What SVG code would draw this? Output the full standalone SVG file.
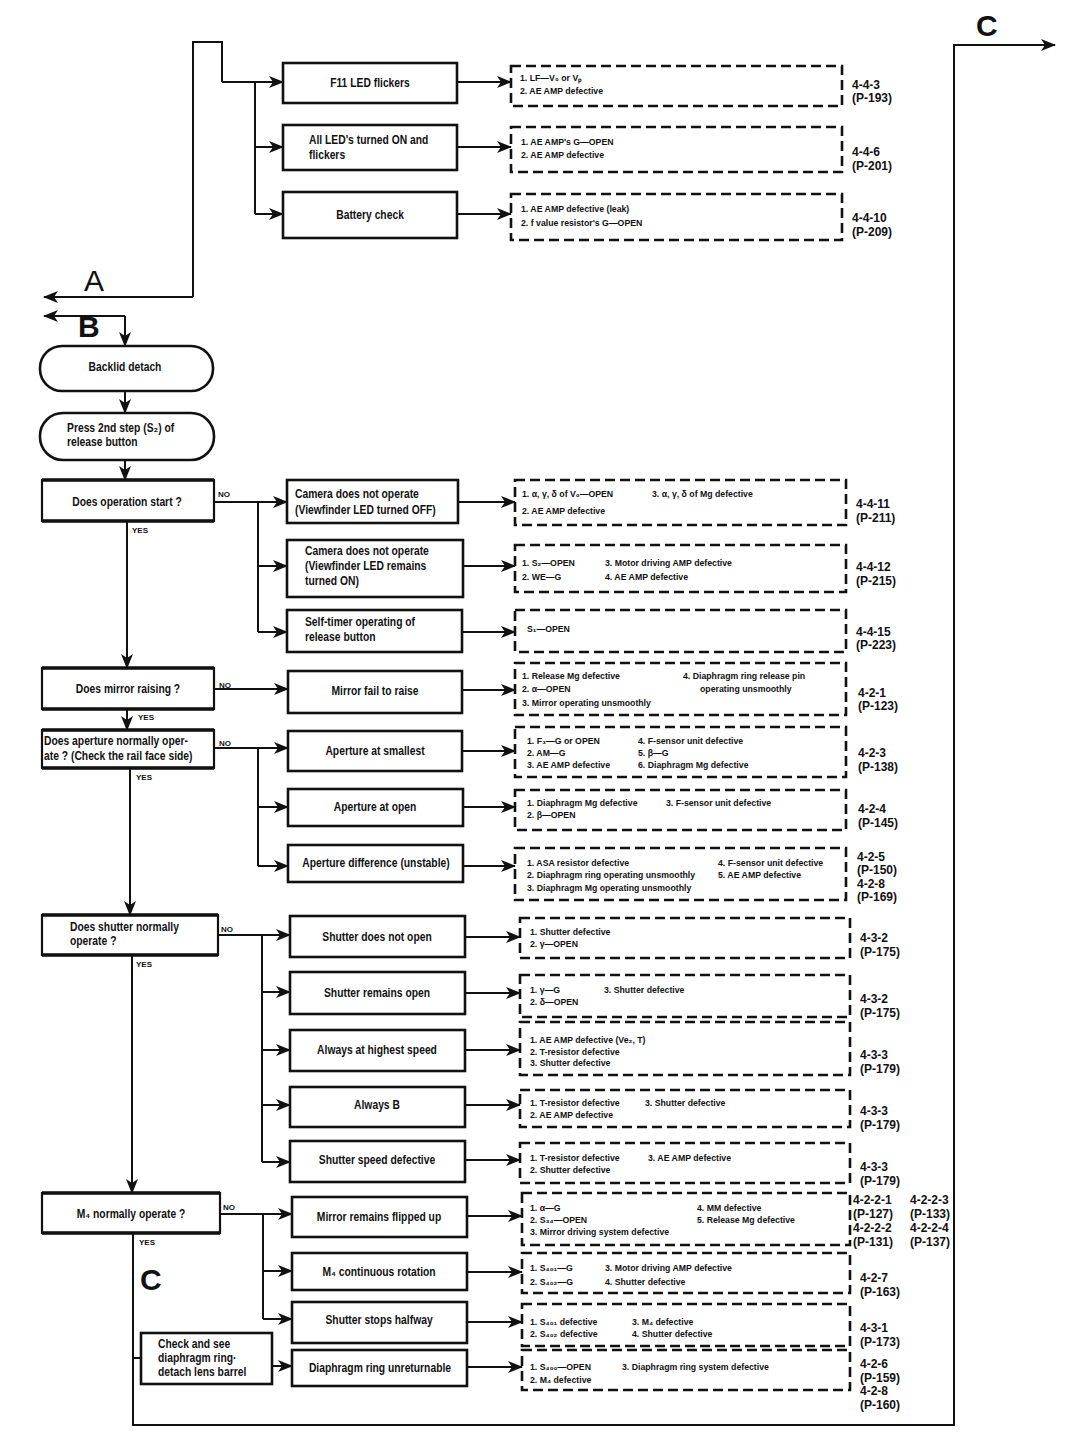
<svg xmlns="http://www.w3.org/2000/svg" width="1074" height="1456" viewBox="0 0 1074 1456">
<defs>
<marker id="ah" markerUnits="userSpaceOnUse" markerWidth="16" markerHeight="12" refX="14" refY="6" orient="auto">
<path d="M0,0 L15,6 L0,12 L4,6 Z" fill="#111"/>
</marker>
<style>
.bx{fill:#fff;stroke:#111;stroke-width:2.6}
.q{fill:#fff;stroke:#111;stroke-width:2.2}
.qt{fill:none;stroke:#111;stroke-width:3.6}
.db{fill:none;stroke:#111;stroke-width:2.6;stroke-dasharray:10 5}
.ln{fill:none;stroke:#111;stroke-width:2}
.ar{fill:none;stroke:#111;stroke-width:2;marker-end:url(#ah)}
text{font-family:"Liberation Sans",Arial,sans-serif;font-weight:bold;fill:#111}
.t{font-size:12px;text-anchor:middle;transform-box:fill-box;transform-origin:50% 50%;transform:scaleX(.86)}
.tl{font-size:12px;transform-box:fill-box;transform-origin:0 50%;transform:scaleX(.86)}
.s{font-size:9.5px;transform-box:fill-box;transform-origin:0 50%;transform:scaleX(.92)}
.r{font-size:12px}
.y{font-size:8px}
.big{font-size:30px}
.thin{font-weight:normal}
</style>
</defs>
<rect width="1074" height="1456" fill="#fff"/>

<g id="connectors">
<path class="ar" d="M193,297 H44"/>
<path class="ln" d="M193,297 V42 H222 V82"/>
<path class="ar" d="M222,82 H283"/>
<path class="ln" d="M255,82 V214"/>
<path class="ar" d="M255,147 H283"/>
<path class="ar" d="M255,214 H283"/>
<path class="ar" d="M457,82 H511"/>
<path class="ar" d="M457,147 H511"/>
<path class="ar" d="M457,214 H511"/>
<path class="ar" d="M125,316 H44"/>
<path class="ar" d="M125,316 V346"/>
<path class="ar" d="M125,391 V413"/>
<path class="ar" d="M125,460 V480"/>
<path class="ar" d="M214,502 H287"/>
<path class="ln" d="M258,502 V632"/>
<path class="ar" d="M258,566 H287"/>
<path class="ar" d="M258,632 H287"/>
<path class="ar" d="M458,502 H515"/>
<path class="ar" d="M463,566 H515"/>
<path class="ar" d="M462,632 H515"/>
<path class="ar" d="M127,521 V668"/>
<path class="ar" d="M214,689 H288"/>
<path class="ar" d="M462,690 H515"/>
<path class="ar" d="M127,709 V730"/>
<path class="ar" d="M214,748 H288"/>
<path class="ln" d="M258,748 V866"/>
<path class="ar" d="M258,807 H288"/>
<path class="ar" d="M258,866 H288"/>
<path class="ar" d="M462,751 H515"/>
<path class="ar" d="M463,807 H515"/>
<path class="ar" d="M463,866 H515"/>
<path class="ar" d="M130,768 V915"/>
<path class="ar" d="M218,935 H290"/>
<path class="ln" d="M262,935 V1162"/>
<path class="ar" d="M262,992 H290"/>
<path class="ar" d="M262,1050 H290"/>
<path class="ar" d="M262,1105 H290"/>
<path class="ar" d="M262,1162 H290"/>
<path class="ar" d="M465,937 H520"/>
<path class="ar" d="M465,993 H520"/>
<path class="ar" d="M465,1050 H520"/>
<path class="ar" d="M465,1105 H520"/>
<path class="ar" d="M465,1160 H520"/>
<path class="ar" d="M132,955 V1193"/>
<path class="ar" d="M220,1214 H292"/>
<path class="ln" d="M263,1214 V1319"/>
<path class="ar" d="M263,1271 H292"/>
<path class="ar" d="M263,1319 H292"/>
<path class="ar" d="M467,1216 H522"/>
<path class="ar" d="M467,1272 H522"/>
<path class="ar" d="M467,1322 H522"/>
<path class="ar" d="M467,1367 H522"/>
<path class="ln" d="M133,1358 H141"/>
<path class="ar" d="M272,1366 H292"/>
<path class="ar" d="M133,1233 V1425 H954 V45 H1055"/>
</g>

<g id="labels">
<text class="big thin" x="84" y="291">A</text>
<text class="big" x="78" y="337">B</text>
<text class="big" x="976" y="36">C</text>
<text class="big" x="140" y="1290">C</text>
<text class="y" x="218" y="497">NO</text>
<text class="y" x="132" y="533">YES</text>
<text class="y" x="219" y="688">NO</text>
<text class="y" x="138" y="720">YES</text>
<text class="y" x="219" y="746">NO</text>
<text class="y" x="136" y="780">YES</text>
<text class="y" x="221" y="932">NO</text>
<text class="y" x="136" y="967">YES</text>
<text class="y" x="223" y="1210">NO</text>
<text class="y" x="139" y="1245">YES</text>
</g>

<g id="n_f11"><rect class="bx" x="283" y="63" width="174" height="40"/><text class="t" x="370" y="87">F11 LED flickers</text></g>
<g id="n_allled"><rect class="bx" x="283" y="125" width="174" height="45"/><text class="tl" x="309" y="144">All LED's turned ON and</text><text class="tl" x="309" y="159">flickers</text></g>
<g id="n_battery"><rect class="bx" x="283" y="192" width="174" height="46"/><text class="t" x="370" y="219">Battery check</text></g>

<g id="d_f11"><rect class="db" x="511" y="66" width="331" height="40"/><text class="s" x="520" y="81">1. LF—V₀ or Vₚ</text><text class="s" x="520" y="94">2. AE AMP defective</text><text class="r" x="852" y="89">4-4-3</text><text class="r" x="852" y="102">(P-193)</text></g>
<g id="d_allled"><rect class="db" x="511" y="127" width="331" height="45"/><text class="s" x="521" y="145">1. AE AMP's G—OPEN</text><text class="s" x="521" y="158">2. AE AMP defective</text><text class="r" x="852" y="156">4-4-6</text><text class="r" x="852" y="170">(P-201)</text></g>
<g id="d_battery"><rect class="db" x="511" y="194" width="331" height="46"/><text class="s" x="521" y="212">1. AE AMP defective (leak)</text><text class="s" x="521" y="226">2. f value resistor's G—OPEN</text><text class="r" x="852" y="222">4-4-10</text><text class="r" x="852" y="236">(P-209)</text></g>

<g id="n_backlid"><rect class="bx" x="40" y="346" width="173" height="45" rx="22"/><text class="t" x="125" y="371">Backlid detach</text></g>
<g id="n_press"><rect class="bx" x="40" y="413" width="174" height="47" rx="23"/><text class="tl" x="67" y="432">Press 2nd step (S₂) of</text><text class="tl" x="67" y="446">release button</text></g>

<g id="q_start"><rect class="q" x="42" y="480" width="172" height="41"/><path class="qt" d="M42,480 H214 M42,521 H214"/><text class="t" x="127" y="506">Does operation start ?</text></g>
<g id="n_cam1"><rect class="bx" x="287" y="480" width="171" height="43"/><text class="tl" x="295" y="498">Camera does not operate</text><text class="tl" x="295" y="514">(Viewfinder LED turned OFF)</text></g>
<g id="n_cam2"><rect class="bx" x="287" y="540" width="176" height="57"/><text class="tl" x="305" y="555">Camera does not operate</text><text class="tl" x="305" y="570">(Viewfinder LED remains</text><text class="tl" x="305" y="585">turned ON)</text></g>
<g id="n_self"><rect class="bx" x="287" y="610" width="175" height="42"/><text class="tl" x="305" y="626">Self-timer operating of</text><text class="tl" x="305" y="641">release button</text></g>

<g id="d_cam1"><rect class="db" x="515" y="480" width="331" height="45"/><text class="s" x="522" y="497">1. α, γ, δ of V₀—OPEN</text><text class="s" x="652" y="497">3. α, γ, δ of Mg defective</text><text class="s" x="522" y="514">2. AE AMP defective</text><text class="r" x="856" y="508">4-4-11</text><text class="r" x="856" y="522">(P-211)</text></g>
<g id="d_cam2"><rect class="db" x="515" y="545" width="331" height="47"/><text class="s" x="522" y="566">1. S₂—OPEN</text><text class="s" x="605" y="566">3. Motor driving AMP defective</text><text class="s" x="522" y="580">2. WE—G</text><text class="s" x="605" y="580">4. AE AMP defective</text><text class="r" x="856" y="571">4-4-12</text><text class="r" x="856" y="585">(P-215)</text></g>
<g id="d_self"><rect class="db" x="515" y="610" width="331" height="42"/><text class="s" x="527" y="632">S₁—OPEN</text><text class="r" x="856" y="636">4-4-15</text><text class="r" x="856" y="649">(P-223)</text></g>

<g id="q_mirror"><rect class="q" x="42" y="668" width="172" height="41"/><path class="qt" d="M42,668 H214 M42,709 H214"/><text class="t" x="128" y="693">Does mirror raising ?</text></g>
<g id="n_mirrorfail"><rect class="bx" x="288" y="671" width="174" height="42"/><text class="t" x="375" y="695">Mirror fail to raise</text></g>
<g id="d_mirrorfail"><rect class="db" x="515" y="663" width="331" height="52"/><text class="s" x="522" y="679">1. Release Mg defective</text><text class="s" x="522" y="692">2. α—OPEN</text><text class="s" x="522" y="706">3. Mirror operating unsmoothly</text><text class="s" x="683" y="679">4. Diaphragm ring release pin</text><text class="s" x="700" y="692">operating unsmoothly</text><text class="r" x="858" y="697">4-2-1</text><text class="r" x="858" y="710">(P-123)</text></g>

<g id="q_aperture"><rect class="q" x="42" y="730" width="172" height="38"/><path class="qt" d="M42,730 H214 M42,768 H214"/><text class="tl" x="44" y="745">Does aperture normally oper-</text><text class="tl" x="44" y="760">ate ? (Check the rail face side)</text></g>
<g id="n_apsmall"><rect class="bx" x="288" y="731" width="174" height="40"/><text class="t" x="375" y="755">Aperture at smallest</text></g>
<g id="n_apopen"><rect class="bx" x="288" y="789" width="175" height="37"/><text class="t" x="375" y="811">Aperture at open</text></g>
<g id="n_apdiff"><rect class="bx" x="288" y="845" width="175" height="37"/><text class="t" x="376" y="867">Aperture difference (unstable)</text></g>

<g id="d_apsmall"><rect class="db" x="515" y="727" width="331" height="50"/><text class="s" x="527" y="744">1. F₃—G or OPEN</text><text class="s" x="527" y="756">2. AM—G</text><text class="s" x="527" y="768">3. AE AMP defective</text><text class="s" x="638" y="744">4. F-sensor unit defective</text><text class="s" x="638" y="756">5. β—G</text><text class="s" x="638" y="768">6. Diaphragm Mg defective</text><text class="r" x="858" y="757">4-2-3</text><text class="r" x="858" y="771">(P-138)</text></g>
<g id="d_apopen"><rect class="db" x="515" y="790" width="331" height="40"/><text class="s" x="527" y="806">1. Diaphragm Mg defective</text><text class="s" x="666" y="806">3. F-sensor unit defective</text><text class="s" x="527" y="818">2. β—OPEN</text><text class="r" x="858" y="813">4-2-4</text><text class="r" x="858" y="827">(P-145)</text></g>
<g id="d_apdiff"><rect class="db" x="515" y="848" width="331" height="52"/><text class="s" x="527" y="866">1. ASA resistor defective</text><text class="s" x="527" y="878">2. Diaphragm ring operating unsmoothly</text><text class="s" x="527" y="891">3. Diaphragm Mg operating unsmoothly</text><text class="s" x="718" y="866">4. F-sensor unit defective</text><text class="s" x="718" y="878">5. AE AMP defective</text><text class="r" x="857" y="861">4-2-5</text><text class="r" x="857" y="874">(P-150)</text><text class="r" x="857" y="888">4-2-8</text><text class="r" x="857" y="901">(P-169)</text></g>

<g id="q_shutter"><rect class="q" x="42" y="915" width="176" height="40"/><path class="qt" d="M42,915 H218 M42,955 H218"/><text class="tl" x="70" y="931">Does shutter normally</text><text class="tl" x="70" y="945">operate ?</text></g>
<g id="n_sh1"><rect class="bx" x="290" y="916" width="175" height="41"/><text class="t" x="377" y="941">Shutter does not open</text></g>
<g id="n_sh2"><rect class="bx" x="290" y="972" width="175" height="42"/><text class="t" x="377" y="997">Shutter remains open</text></g>
<g id="n_sh3"><rect class="bx" x="290" y="1030" width="175" height="41"/><text class="t" x="377" y="1054">Always at highest speed</text></g>
<g id="n_sh4"><rect class="bx" x="290" y="1087" width="175" height="40"/><text class="t" x="377" y="1109">Always B</text></g>
<g id="n_sh5"><rect class="bx" x="290" y="1141" width="175" height="41"/><text class="t" x="377" y="1164">Shutter speed defective</text></g>

<g id="d_sh1"><rect class="db" x="520" y="918" width="330" height="40"/><text class="s" x="530" y="935">1. Shutter defective</text><text class="s" x="530" y="947">2. γ—OPEN</text><text class="r" x="860" y="942">4-3-2</text><text class="r" x="860" y="956">(P-175)</text></g>
<g id="d_sh2"><rect class="db" x="520" y="975" width="330" height="42"/><text class="s" x="530" y="993">1. γ—G</text><text class="s" x="604" y="993">3. Shutter defective</text><text class="s" x="530" y="1005">2. δ—OPEN</text><text class="r" x="860" y="1003">4-3-2</text><text class="r" x="860" y="1017">(P-175)</text></g>
<g id="d_sh3"><rect class="db" x="520" y="1022" width="330" height="53"/><text class="s" x="530" y="1043">1. AE AMP defective (Ve₂, T)</text><text class="s" x="530" y="1055">2. T-resistor defective</text><text class="s" x="530" y="1066">3. Shutter defective</text><text class="r" x="860" y="1059">4-3-3</text><text class="r" x="860" y="1073">(P-179)</text></g>
<g id="d_sh4"><rect class="db" x="520" y="1090" width="330" height="37"/><text class="s" x="530" y="1106">1. T-resistor defective</text><text class="s" x="645" y="1106">3. Shutter defective</text><text class="s" x="530" y="1118">2. AE AMP defective</text><text class="r" x="860" y="1115">4-3-3</text><text class="r" x="860" y="1129">(P-179)</text></g>
<g id="d_sh5"><rect class="db" x="520" y="1143" width="330" height="40"/><text class="s" x="530" y="1161">1. T-resistor defective</text><text class="s" x="648" y="1161">3. AE AMP defective</text><text class="s" x="530" y="1173">2. Shutter defective</text><text class="r" x="860" y="1171">4-3-3</text><text class="r" x="860" y="1185">(P-179)</text></g>

<g id="q_m4"><rect class="q" x="42" y="1193" width="178" height="40"/><path class="qt" d="M42,1193 H220 M42,1233 H220"/><text class="t" x="131" y="1218">M₄ normally operate ?</text></g>
<g id="n_m1"><rect class="bx" x="292" y="1197" width="175" height="40"/><text class="t" x="379" y="1221">Mirror remains flipped up</text></g>
<g id="n_m2"><rect class="bx" x="292" y="1253" width="175" height="37"/><text class="t" x="379" y="1276">M₄ continuous rotation</text></g>
<g id="n_m3"><rect class="bx" x="292" y="1302" width="175" height="41"/><text class="t" x="379" y="1324">Shutter stops halfway</text></g>
<g id="n_m4"><rect class="bx" x="292" y="1350" width="175" height="36"/><text class="t" x="380" y="1372">Diaphragm ring unreturnable</text></g>
<g id="n_check"><rect class="bx" x="141" y="1333" width="131" height="51"/><text class="tl" x="158" y="1348">Check and see</text><text class="tl" x="158" y="1362">diaphragm ring·</text><text class="tl" x="158" y="1376">detach lens barrel</text></g>

<g id="d_m1"><rect class="db" x="522" y="1193" width="328" height="52"/><text class="s" x="530" y="1211">1. α—G</text><text class="s" x="530" y="1223">2. S₃₄—OPEN</text><text class="s" x="530" y="1235">3. Mirror driving system defective</text><text class="s" x="697" y="1211">4. MM defective</text><text class="s" x="697" y="1223">5. Release Mg defective</text><text class="r" x="853" y="1204">4-2-2-1</text><text class="r" x="853" y="1218">(P-127)</text><text class="r" x="853" y="1232">4-2-2-2</text><text class="r" x="853" y="1246">(P-131)</text><text class="r" x="910" y="1204">4-2-2-3</text><text class="r" x="910" y="1218">(P-133)</text><text class="r" x="910" y="1232">4-2-2-4</text><text class="r" x="910" y="1246">(P-137)</text></g>
<g id="d_m2"><rect class="db" x="522" y="1253" width="328" height="40"/><text class="s" x="530" y="1271">1. S₄₀₁—G</text><text class="s" x="530" y="1285">2. S₄₀₂—G</text><text class="s" x="605" y="1271">3. Motor driving AMP defective</text><text class="s" x="605" y="1285">4. Shutter defective</text><text class="r" x="860" y="1282">4-2-7</text><text class="r" x="860" y="1296">(P-163)</text></g>
<g id="d_m3"><rect class="db" x="522" y="1304" width="328" height="42"/><text class="s" x="530" y="1325">1. S₄₀₁ defective</text><text class="s" x="530" y="1337">2. S₄₀₂ defective</text><text class="s" x="632" y="1325">3. M₄ defective</text><text class="s" x="632" y="1337">4. Shutter defective</text><text class="r" x="860" y="1332">4-3-1</text><text class="r" x="860" y="1346">(P-173)</text></g>
<g id="d_m4"><rect class="db" x="522" y="1350" width="328" height="40"/><text class="s" x="530" y="1370">1. S₄₀₀—OPEN</text><text class="s" x="622" y="1370">3. Diaphragm ring system defective</text><text class="s" x="530" y="1383">2. M₄ defective</text><text class="r" x="860" y="1368">4-2-6</text><text class="r" x="860" y="1382">(P-159)</text><text class="r" x="860" y="1395">4-2-8</text><text class="r" x="860" y="1409">(P-160)</text></g>
</svg>
